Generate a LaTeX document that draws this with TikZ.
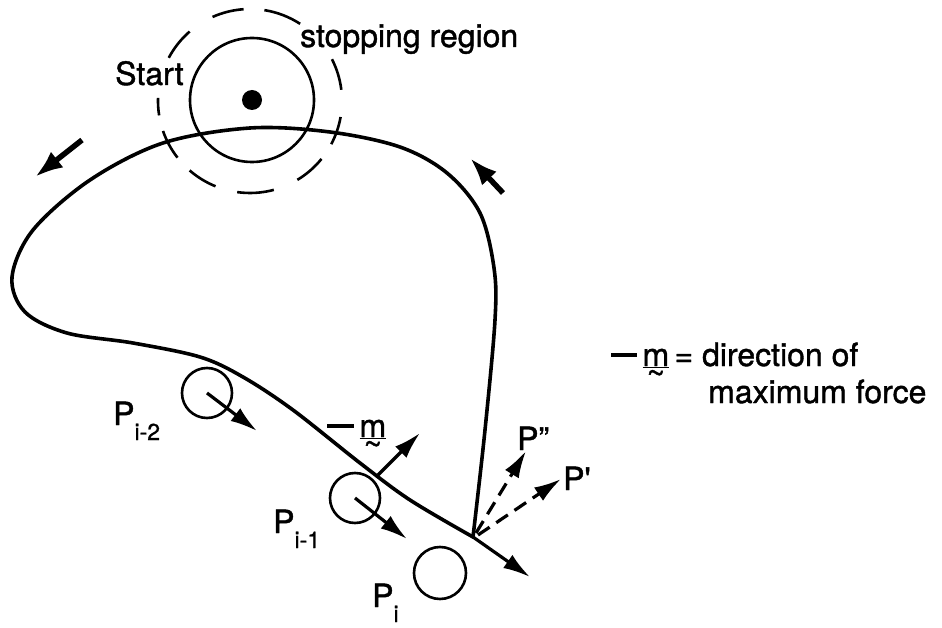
\documentclass[tikz,border=0pt]{standalone}
\usepackage{fontspec}
\setmainfont{TeX Gyre Heros}[FakeBold=1.2]
\usetikzlibrary{arrows.meta,calc}
\newcommand{\psub}[1]{\raisebox{-15pt}{\fontsize{23}{26}\selectfont #1}}
\newcommand{\mvec}{\ooalign{\underline{m}\cr\hidewidth\raisebox{-18pt}{\textasciitilde}\hidewidth\cr}}

\begin{document}
\begin{tikzpicture}[x=1pt, y=-1pt,
  track/.style={line width=3.6pt, line join=round, line cap=round},
  ring/.style={line width=2.6pt},
  force/.style={-{Latex[length=27pt,width=16pt]}, line width=3.2pt},
  trial/.style={force, dash pattern=on 14pt off 8pt},
  flow/.style={-{Latex[length=28pt,width=20pt]}, line width=5.5pt},
  txt/.style={inner sep=0pt, anchor=base west, font=\fontsize{32}{38}\selectfont}]

  \useasboundingbox (0,0) rectangle (942,628);

  % stopping region round the start
  \coordinate (goal) at (250,101);
  \fill (252,100) circle (10);
  \draw[ring] (252,100) circle (62);
  \foreach \a/\b in {94/114, 57/81, 7/27, -28/-10, -59/-39, -98/-75,
                     -131/-112, -161/-142, 178/189, 131/152}
    \draw[ring] ($(goal)+(-\a:92)$) arc[start angle=-\a, end angle=-\b, radius=92];
  \node[txt] (start) at (115,85) {Start};
  \node[txt] (stop) at (300,47) {stopping region};

  % the traced boundary
  \draw[track] plot[smooth, tension=0.55] coordinates {
    (473,537) (410,500) (360,463) (293,410) (243,377) (200,357) (133,343)
    (67,333) (25,312) (12,277) (33,230) (90,180) (163,143)
    (250,128) (330,132) (400,147) (447,173) (480,213)
    (494,268) (495,320) (485,430) (473,537)};

  % direction of travel
  \draw[flow] (82,140) -- (35,177);
  \draw[flow] (503,193) -- (470,158);

  % probe positions
  \draw[ring] (207,393) coordinate (pa) circle (25);
  \draw[ring] (355,498) coordinate (pb) circle (25);
  \draw[ring] (440,573) coordinate (pc) circle (26);
  \coordinate (pa-tip) at (257,431);
  \coordinate (pb-tip) at (407,539);
  \draw[force] (pa) -- (pa-tip);
  \draw[force] (pb) -- (pb-tip);

  \node[txt] (la) at (113,425) {P\psub{i-2}};
  \node[txt] (lb) at (273,533) {P\psub{i-1}};
  \node[txt] (lc) at (372,607) {P\psub{i}};

  % maximum force direction at the curve
  \coordinate (mfoot) at (378,475);
  \coordinate (mtip) at (420,433);
  \draw[force] (mfoot) -- (mtip);
  \node[txt] (mlab) at (327,437) {\rule[9pt]{27pt}{4pt}\,\mvec};

  % current point and trial steps
  \coordinate (cur) at (473,537);
  \coordinate (next) at (530,577);
  \coordinate (ptwo) at (526,451);
  \coordinate (pone) at (561,479);
  \draw[force] (cur) -- (next);
  \draw[trial] ($(cur)+(3,-4)$) -- (ptwo);
  \draw[trial] ($(cur)+(5,-2)$) -- (pone);
  \node[txt] (ltwo) at (517,450) {P"};
  \node[txt] (lone) at (563,490) {P\textquotesingle};

  % legend
  \node[txt] (key) at (611,366) {\rule[9pt]{26pt}{4pt}\,\mvec\,= direction of};
  \node[txt] (key2) at (708,403) {maximum force};
\end{tikzpicture}
\end{document}
